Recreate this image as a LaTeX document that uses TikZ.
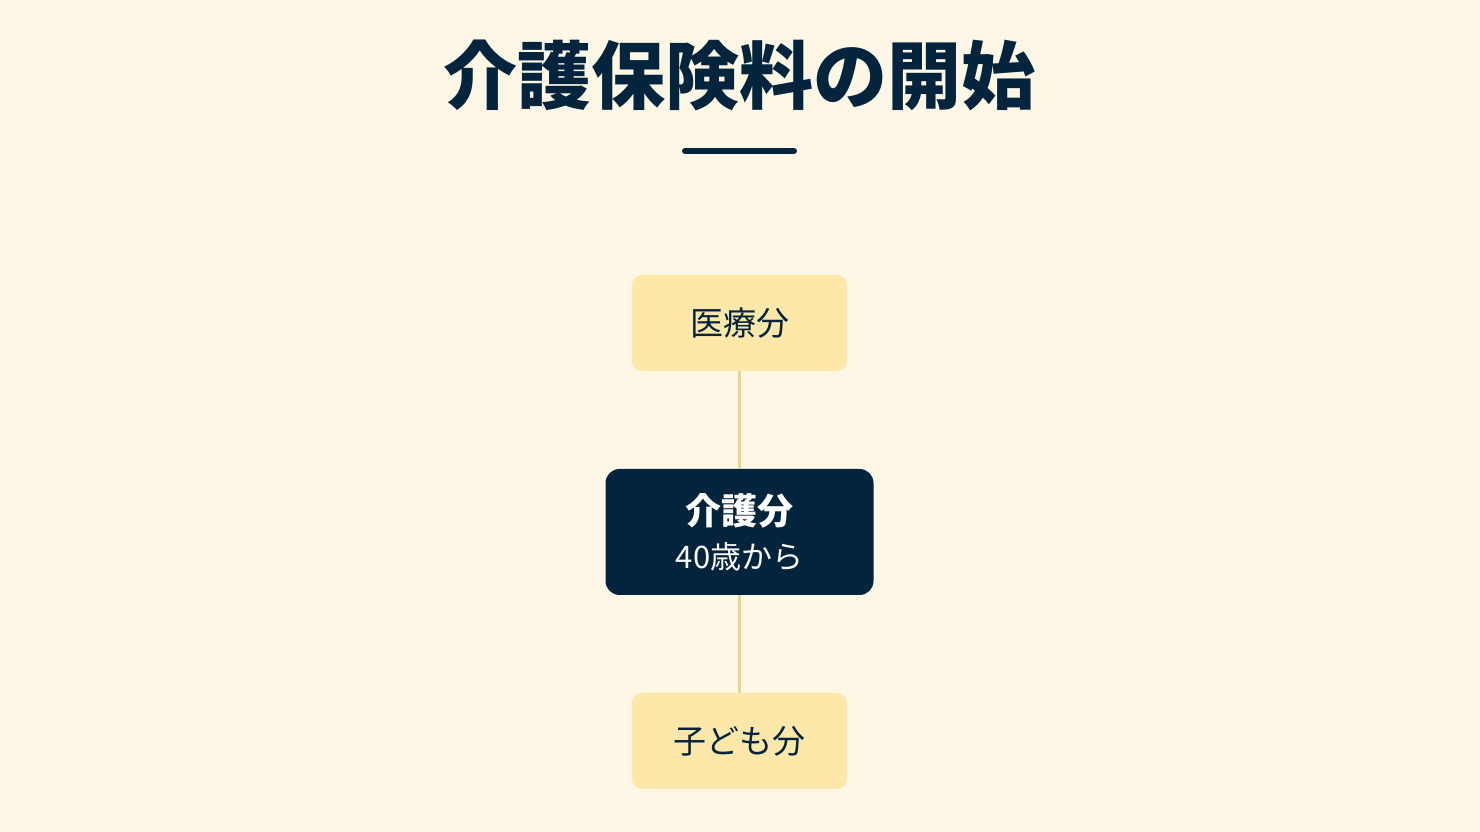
\documentclass[tikz,border=0pt]{standalone}
\usepackage{fontspec}
\setmainfont{Noto Sans CJK JP}
\usepackage{tikz}
\definecolor{bgcream}{HTML}{FEF7E6}
\definecolor{navy}{HTML}{03243D}
\definecolor{lightbox}{HTML}{FDE8AA}
\definecolor{linkgold}{HTML}{EAD58E}
\tikzstyle{cpale}=[rectangle, rounded corners=10pt, fill=lightbox, text=navy, minimum width=215pt, minimum height=96pt, inner sep=0pt, font=\fontsize{33}{38}\selectfont]
\tikzstyle{cdark}=[rectangle, rounded corners=14pt, fill=navy, text=white, minimum width=268pt, minimum height=126pt, inner sep=0pt, align=center]
\tikzstyle{clink}=[line width=3pt, linkgold]

\begin{document}
\begin{tikzpicture}[x=1pt, y=1pt]

\fill[bgcream] (0,0) rectangle (1480,832);
\useasboundingbox (0,0) rectangle (1480,832);

\node[text=navy, font=\fontsize{74}{80}\selectfont\bfseries] (title) at (739.5,757) {介護保険料の開始};
\coordinate (r1) at (685,681);
\coordinate (r2) at (794,681);
\draw[navy, line width=6pt, line cap=round] (r1) -- (r2);

\node[cpale] (n1) at (739.5,509) {医療分};
\node[cdark] (n2) at (739.5,300) {{\fontsize{36}{40}\selectfont\bfseries 介護分}\\[13pt]{\fontsize{31}{34}\selectfont 40歳から}};
\node[cpale] (n3) at (739.5,91) {子ども分};

\draw[clink] (n1) -- (n2);
\draw[clink] (n2) -- (n3);

\end{tikzpicture}
\end{document}
